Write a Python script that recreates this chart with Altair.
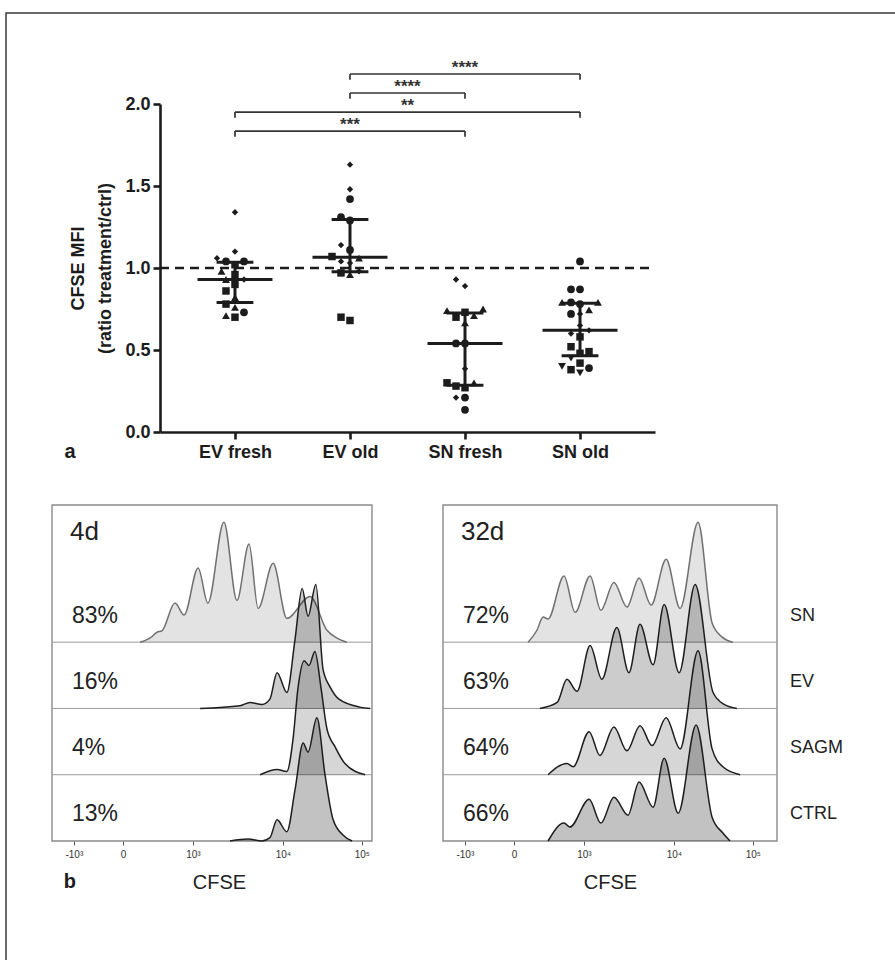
import altair as alt
import pandas as pd

FONT = "Liberation Sans"
INK = "#1c1c1c"

# ---------------- panel a : values ----------------
groups = ["EV fresh", "EV old", "SN fresh", "SN old"]

ev_fresh_values = [0.70, 0.71, 0.73, 0.76, 0.78, 0.82, 0.86, 0.90, 0.93, 0.93, 0.96, 0.98, 1.02, 1.04, 1.04, 1.06, 1.10, 1.34]
ev_fresh_shapes = ["square", "triangle-up", "circle", "triangle-up", "square", "triangle-up", "square", "square", "triangle-up",
                   "diamond", "square", "triangle-up", "square", "circle", "circle", "diamond", "diamond", "diamond"]

ev_old_values = [0.68, 0.70, 0.96, 0.97, 0.98, 1.03, 1.04, 1.06, 1.07, 1.11, 1.14, 1.29, 1.31, 1.42, 1.48, 1.63]
ev_old_shapes = ["square", "square", "triangle-up", "square", "diamond", "diamond", "diamond", "triangle-up", "square",
                 "circle", "diamond", "circle", "circle", "circle", "diamond", "diamond"]

sn_fresh_values = [0.135, 0.21, 0.21, 0.27, 0.28, 0.30, 0.30, 0.385, 0.54, 0.54, 0.665, 0.70, 0.71, 0.73, 0.74, 0.75, 0.89, 0.93]
sn_fresh_shapes = ["circle", "circle", "diamond", "square", "square", "triangle-up", "square", "diamond", "circle",
                   "circle", "triangle-up", "square", "triangle-up", "square", "triangle-up", "triangle-up", "diamond", "diamond"]

sn_old_values = [0.36, 0.38, 0.39, 0.40, 0.42, 0.45, 0.48, 0.49, 0.52, 0.58, 0.60, 0.62, 0.65, 0.72, 0.72, 0.745,
                 0.78, 0.79, 0.79, 0.79, 0.87, 0.87, 1.04]
sn_old_shapes = ["triangle-down", "square", "circle", "triangle-down", "square", "triangle-down", "square", "square",
                 "square", "square", "diamond", "diamond", "diamond", "diamond", "circle", "triangle-up", "circle",
                 "circle", "triangle-up", "triangle-up", "circle", "circle", "circle"]

reference_ratio = 1.0
y_ticks_a = [0.0, 0.5, 1.0, 1.5, 2.0]

brackets_from = [1, 1, 0, 0]
brackets_to = [3, 2, 3, 2]
brackets_height = [2.183, 2.067, 1.951, 1.835]
brackets_label = ["****", "****", "**", "***"]

# ---------------- panel b : values (display channel 0-1024, height in row units) ----------------
cfse_tick_channels = [67, 218, 432, 708, 950]
cfse_tick_labels = ["-10³", "0", "10³", "10⁴", "10⁵"]
rows = ["SN", "EV", "SAGM", "CTRL"]
pct_4d = ["83%", "16%", "4%", "13%"]
pct_32d = ["72%", "63%", "64%", "66%"]

d4_sn_ch = [270, 300, 322, 337, 377, 405, 448, 478, 527, 567, 604, 632, 678, 720, 791, 843, 874, 904]
d4_sn_h = [0, 0.06, 0.15, 0.17, 0.59, 0.41, 1.12, 0.59, 1.81, 0.63, 1.48, 0.51, 1.19, 0.36, 0.69, 0.18, 0.06, 0]
d4_ev_ch = [454, 576, 607, 644, 668, 690, 720, 745, 767, 785, 809, 831, 852, 880, 944, 975]
d4_ev_h = [0, 0.04, 0.09, 0.06, 0.14, 0.54, 0.24, 1.04, 1.81, 1.39, 1.87, 0.59, 0.33, 0.14, 0.02, 0]
d4_sagm_ch = [638, 690, 720, 739, 754, 773, 788, 806, 825, 843, 868, 898, 960]
d4_sagm_h = [0, 0.08, 0.05, 0.54, 1.30, 1.72, 1.65, 1.86, 1.30, 0.69, 0.42, 0.17, 0]
d4_ctrl_ch = [546, 601, 644, 668, 690, 720, 745, 770, 785, 812, 837, 862, 892, 920]
d4_ctrl_h = [0, 0.03, 0, 0.05, 0.32, 0.14, 0.77, 1.48, 1.34, 1.86, 1.0, 0.32, 0.09, 0]

d32_sn_ch = [261, 288, 307, 322, 371, 405, 451, 484, 524, 564, 601, 638, 684, 727, 782, 825, 855, 889]
d32_sn_h = [0, 0.18, 0.38, 0.35, 1.0, 0.45, 1.0, 0.48, 0.9, 0.53, 0.97, 0.56, 1.25, 0.51, 1.81, 0.29, 0.08, 0]
d32_ev_ch = [297, 350, 380, 411, 451, 487, 533, 570, 604, 644, 678, 724, 773, 828, 862, 901]
d32_ev_h = [0, 0.09, 0.44, 0.26, 0.95, 0.44, 1.22, 0.54, 1.27, 0.66, 1.57, 0.54, 1.87, 0.24, 0.06, 0]
d32_sagm_ch = [322, 380, 399, 448, 481, 524, 564, 604, 641, 684, 727, 782, 825, 858, 911]
d32_sagm_h = [0, 0.17, 0.12, 0.65, 0.29, 0.72, 0.36, 0.74, 0.44, 0.86, 0.39, 1.87, 0.39, 0.12, 0]
d32_ctrl_ch = [322, 371, 389, 448, 484, 524, 567, 601, 644, 678, 721, 776, 825, 858, 880]
d32_ctrl_h = [0, 0.27, 0.21, 0.63, 0.27, 0.66, 0.39, 0.89, 0.51, 1.25, 0.42, 1.75, 0.36, 0.12, 0]

# ---------------- layout ----------------
OX, OY = 6, 13
W, H = 895 - OX, 960 - OY


def hx(px):
    return px - OX


def vy(py):
    return py - OY


XA_DOM = [-0.652, 3.652]
AX = alt.Scale(domain=XA_DOM, range=[hx(160), hx(655)], nice=False, zero=False)
AY = alt.Scale(domain=[0, 2], range=[vy(432), vy(104)], nice=False, zero=False)
BY_DOM = [0, 5.07]
BY = alt.Scale(domain=BY_DOM, range=[vy(841), vy(505)], nice=False, zero=False)
CH_DOM = [0, 1024]
BXL = alt.Scale(domain=CH_DOM, range=[hx(52), hx(386)], nice=False, zero=False)
BXR = alt.Scale(domain=CH_DOM, range=[hx(443), hx(777)], nice=False, zero=False)
FRAME_END_LEFT = 981   # left histogram box is cropped a little narrower
FRAME_END_RIGHT = 1024

PX_X, PX_Y, DIAM = 115.0, 164.0, 9.0
SIZES = {"circle": 60, "square": 56, "triangle-up": 62, "triangle-down": 62, "diamond": 40}


def swarm(values):
    placed, offs = [], [0.0] * len(values)
    cands = [0.0]
    for s in range(1, 40):
        cands += [-s * DIAM / 2, s * DIAM / 2]
    for i in sorted(range(len(values)), key=lambda k: values[k]):
        v = values[i]
        for c in cands:
            if all((c - o) ** 2 + ((v - w) * PX_Y) ** 2 >= DIAM ** 2 for o, w in placed):
                break
        placed.append((c, v))
        offs[i] = c / PX_X
    return offs


recs = []
for gi, (vals, shp) in enumerate([(ev_fresh_values, ev_fresh_shapes), (ev_old_values, ev_old_shapes),
                                  (sn_fresh_values, sn_fresh_shapes), (sn_old_values, sn_old_shapes)]):
    for v, s, o in zip(vals, shp, swarm(vals)):
        recs.append({"g": gi, "x": gi + o, "v": v, "shape": s, "size": SIZES[s]})
pts = pd.DataFrame(recs)

grp_js = "[" + ",".join("'%s'" % g for g in groups) + "]"
x_axis_a = alt.Axis(values=[0, 1, 2, 3], labelExpr=grp_js + "[datum.value]", orient="bottom",
                    offset=vy(432) - H, domainWidth=2.6, domainColor=INK, tickColor=INK, tickWidth=2.6,
                    tickSize=7, labelFontSize=18, labelFontWeight="bold", labelColor=INK, labelPadding=4,
                    grid=False, title=None, labelFont=FONT)
y_axis_a = alt.Axis(values=y_ticks_a, format=".1f", orient="left", offset=-hx(160), domainWidth=2.6,
                    domainColor=INK, tickColor=INK, tickWidth=2.6, tickSize=7, labelFontSize=18,
                    labelFontWeight="bold", labelColor=INK, labelPadding=3, grid=False,
                    title=["CFSE MFI", "(ratio treatment/ctrl)"], titleFontSize=18, titleFontWeight="bold",
                    titleColor=INK, titlePadding=10, titleLineHeight=27, labelFont=FONT, titleFont=FONT)


def XA(f, axis=None):
    return alt.X(f, type="quantitative", scale=AX, axis=axis)


def YA(f, axis=None):
    return alt.Y(f, type="quantitative", scale=AY, axis=axis)


# outer frame of the figure (right and bottom edges fall outside the page)
outer = alt.Chart(pd.DataFrame({"k": [0]})).mark_rect(fillOpacity=0, stroke="#3a3a3a", strokeWidth=1.5).encode(
    x=alt.value(0), x2=alt.value(W + 30), y=alt.value(0), y2=alt.value(H + 30))

base_a = alt.Chart(pts)
points = base_a.mark_point(filled=True, opacity=1, color=INK, strokeWidth=0).encode(
    x=XA("x", x_axis_a), y=YA("v", y_axis_a),
    shape=alt.Shape("shape:N", scale=None), size=alt.Size("size:Q", scale=None))

stats = base_a.transform_aggregate(med="median(v)", q1="q1(v)", q3="q3(v)", groupby=["g"]).transform_calculate(
    ml="datum.g - 0.326", mr="datum.g + 0.326", cl="datum.g - 0.16", cr="datum.g + 0.16")
med_rule = stats.mark_rule(strokeWidth=3, color=INK).encode(x=XA("ml"), x2="mr:Q", y=YA("med"))
iqr_rule = stats.mark_rule(strokeWidth=3, color=INK).encode(x=XA("g"), y=YA("q1"), y2="q3:Q")
cap_lo = stats.mark_rule(strokeWidth=3, color=INK).encode(x=XA("cl"), x2="cr:Q", y=YA("q1"))
cap_hi = stats.mark_rule(strokeWidth=3, color=INK).encode(x=XA("cl"), x2="cr:Q", y=YA("q3"))

ref_df = pd.DataFrame({"x0": [XA_DOM[0]], "x1": [XA_DOM[1]], "y": [reference_ratio]})
dashed = alt.Chart(ref_df).mark_rule(strokeWidth=2.6, strokeDash=[9, 6], color=INK).encode(
    x=XA("x0"), x2="x1:Q", y=YA("y"))

br = pd.DataFrame({"a": brackets_from, "b": brackets_to, "h": brackets_height, "lab": brackets_label})
br_h = alt.Chart(br).mark_rule(strokeWidth=1.7, color="#333").encode(x=XA("a"), x2="b:Q", y=YA("h"))
ends = pd.concat([br.assign(e=br.a), br.assign(e=br.b)], ignore_index=True)
br_end = alt.Chart(ends).transform_calculate(hl="datum.h - 0.035").mark_rule(strokeWidth=1.7, color="#333").encode(
    x=XA("e"), y=YA("h"), y2="hl:Q")
stars = alt.Chart(br).transform_calculate(m="(datum.a + datum.b) / 2").mark_text(
    fontSize=17, fontWeight="bold", baseline="alphabetic", dy=-1, color="#333", font=FONT).encode(
    x=XA("m"), y=YA("h"), text="lab:N")

label_a = alt.Chart(pd.DataFrame({"t": ["a"], "x": [-1.435], "y": [-0.122]})).mark_text(
    fontSize=20, fontWeight="bold", color=INK, font=FONT, baseline="middle").encode(x=XA("x"), y=YA("y"), text="t:N")

# ---------------- panel b ----------------
tick_js = "[" + ",".join("'%s'" % t for t in cfse_tick_labels) + "]"
tick_pos_js = "[" + ",".join(str(t) for t in cfse_tick_channels) + "]"


def b_axis():
    return alt.Axis(values=cfse_tick_channels, labelExpr=tick_js + "[indexof(" + tick_pos_js + ", datum.value)]",
                    orient="bottom", offset=vy(841) - H, domain=False, tickSize=4, tickColor="#555",
                    labelFontSize=10, labelColor="#333", labelPadding=4, grid=False, title="CFSE",
                    titleFontSize=20, titleFontWeight="normal", titlePadding=13, titleColor="#222",
                    labelFont=FONT, titleFont=FONT)


FILL_OP = {"SN": 0.11, "EV": 0.20, "SAGM": 0.16, "CTRL": 0.24}
STROKE = {"SN": "#707070", "EV": "#1e1e1e", "SAGM": "#1e1e1e", "CTRL": "#1e1e1e"}


def panel_b(xs, frame_end, curves, pcts, day, with_rows, with_b):
    out = []
    frame = pd.DataFrame({"x0": [CH_DOM[0]], "x1": [frame_end], "y0": [BY_DOM[0]], "y1": [BY_DOM[1]]})
    out.append(alt.Chart(frame).mark_rect(fillOpacity=0, stroke="#8a8a8a", strokeWidth=1.4).encode(
        x=alt.X("x0:Q", scale=xs, axis=b_axis()), x2="x1:Q",
        y=alt.Y("y0:Q", scale=BY, axis=None), y2="y1:Q"))
    lines = pd.DataFrame({"x0": [CH_DOM[0]] * 3, "x1": [frame_end] * 3, "y": [1, 2, 3]})
    out.append(alt.Chart(lines).mark_rule(color="#9a9a9a", strokeWidth=1).encode(
        x=alt.X("x0:Q", scale=xs, axis=None), x2="x1:Q", y=alt.Y("y:Q", scale=BY, axis=None)))
    for i, (name, chs, hs) in enumerate(curves):
        base = len(curves) - 1 - i
        df = pd.DataFrame({"ch": chs, "h": hs})
        df["top"] = base + df["h"]
        df["base"] = base
        out.append(alt.Chart(df).mark_area(interpolate="monotone", color="black", fillOpacity=FILL_OP[name]).encode(
            x=alt.X("ch:Q", scale=xs, axis=None), y=alt.Y("top:Q", scale=BY, axis=None), y2="base:Q"))
        out.append(alt.Chart(df).mark_line(interpolate="monotone", color=STROKE[name], strokeWidth=1.5).encode(
            x=alt.X("ch:Q", scale=xs, axis=None), y=alt.Y("top:Q", scale=BY, axis=None)))
    n = len(rows)
    tdf = pd.DataFrame({"t": pcts, "y": [n - 1 - i + 0.40 for i in range(n)], "x": [61] * n})
    out.append(alt.Chart(tdf).mark_text(fontSize=23, align="left", baseline="middle", color="#222", font=FONT).encode(
        x=alt.X("x:Q", scale=xs, axis=None), y=alt.Y("y:Q", scale=BY, axis=None), text="t:N"))
    ddf = pd.DataFrame({"t": [day], "x": [55], "y": [4.66]})
    out.append(alt.Chart(ddf).mark_text(fontSize=26, align="left", baseline="middle", color="#222", font=FONT).encode(
        x=alt.X("x:Q", scale=xs, axis=None), y=alt.Y("y:Q", scale=BY, axis=None), text="t:N"))
    if with_rows:
        rdf = pd.DataFrame({"t": rows, "y": [n - 1 - i + 0.40 for i in range(n)], "x": [1064] * n})
        out.append(alt.Chart(rdf).mark_text(fontSize=18, align="left", baseline="middle", color="#222", font=FONT).encode(
            x=alt.X("x:Q", scale=xs, axis=None), y=alt.Y("y:Q", scale=BY, axis=None), text="t:N"))
    if with_b:
        bdf = pd.DataFrame({"t": ["b"], "x": [55], "y": [-0.62]})
        out.append(alt.Chart(bdf).mark_text(fontSize=20, fontWeight="bold", align="center", baseline="middle",
                                            color=INK, font=FONT).encode(
            x=alt.X("x:Q", scale=xs, axis=None), y=alt.Y("y:Q", scale=BY, axis=None), text="t:N"))
    return out


curves_4d = [("SN", d4_sn_ch, d4_sn_h), ("EV", d4_ev_ch, d4_ev_h),
             ("SAGM", d4_sagm_ch, d4_sagm_h), ("CTRL", d4_ctrl_ch, d4_ctrl_h)]
curves_32d = [("SN", d32_sn_ch, d32_sn_h), ("EV", d32_ev_ch, d32_ev_h),
              ("SAGM", d32_sagm_ch, d32_sagm_h), ("CTRL", d32_ctrl_ch, d32_ctrl_h)]

layers = [outer, dashed, br_h, br_end, stars, iqr_rule, cap_lo, cap_hi, med_rule, points, label_a]
layers += panel_b(BXL, FRAME_END_LEFT, curves_4d, pct_4d, "4d", False, True)
layers += panel_b(BXR, FRAME_END_RIGHT, curves_32d, pct_32d, "32d", True, False)

chart = alt.layer(*layers).resolve_scale(x="independent", y="independent").properties(
    width=W, height=H, padding={"left": OX, "top": OY, "right": 0, "bottom": 0},
    autosize=alt.AutoSizeParams(type="none"), background="white"
).configure(font=FONT).configure_view(stroke=None)

chart.save("out.html", embed_options={"renderer": "svg", "actions": False})
